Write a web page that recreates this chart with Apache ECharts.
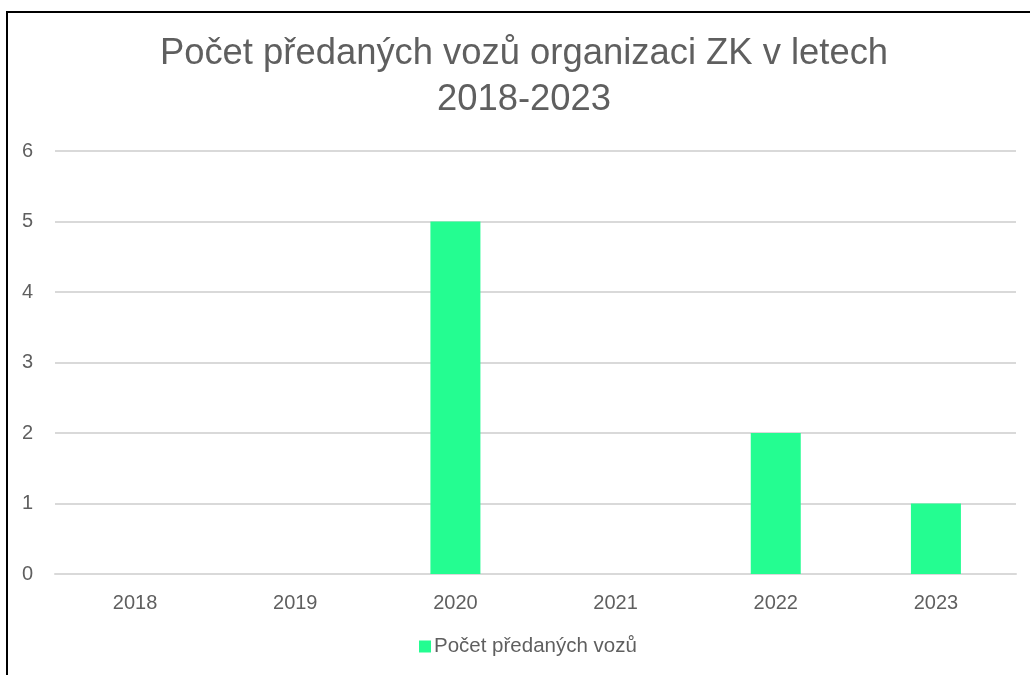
<!DOCTYPE html>
<html lang="cs">
<head>
    <meta charset="UTF-8">
    <title>Počet předaných vozů</title>
    <script src="https://cdn.jsdelivr.net/npm/echarts@6/dist/echarts.min.js"></script>
    <style>
        body { margin: 0; background: #fff; }
        #frame { position: absolute; left: 6px; top: 11px; width: 1100px; height: 700px;
                 border-left: 2px solid #000; border-top: 2px solid #000; }
        #main { position: absolute; left: 0; top: 0; width: 1030px; height: 675px; }
    </style>
</head>
<body>
    <div id="frame"></div>
    <div id="main"></div>
    <script type="text/javascript">
        var roky = ['2018', '2019', '2020', '2021', '2022', '2023'];
        var pocty = [0, 0, 5, 0, 2, 1];
        var nazevRady = 'Počet předaných vozů';

        var font = 'Liberation Sans, Helvetica, Arial, sans-serif';
        var myChart = echarts.init(document.getElementById('main'));

        var option = {
            animation: false,
            title: {
                text: 'Počet předaných vozů organizaci ZK v letech\n2018-2023',
                left: 519,
                textAlign: 'center',
                top: 26,
                textStyle: { fontFamily: font, fontSize: 36.4, fontWeight: 'normal', color: '#5f5f5f', lineHeight: 46 }
            },
            legend: {
                bottom: 13,
                left: 414,
                itemWidth: 12,
                itemHeight: 12,
                itemGap: 4,
                icon: 'rect',
                textStyle: { fontFamily: font, fontSize: 20.5, color: '#5f5f5f', padding: [0, 0, 0, -2] },
                data: [nazevRady]
            },
            grid: { left: 55, right: 14, top: 151, bottom: 101, containLabel: false },
            xAxis: {
                type: 'category',
                data: roky,
                axisLine: { show: true, lineStyle: { color: '#d9d9d9', width: 2 } },
                axisTick: { show: false },
                axisLabel: { fontFamily: font, fontSize: 20, color: '#5f5f5f', margin: 19 }
            },
            yAxis: {
                type: 'value',
                min: 0,
                max: 6,
                interval: 1,
                axisLine: { show: false },
                axisTick: { show: false },
                axisLabel: { fontFamily: font, fontSize: 20, color: '#5f5f5f', margin: 22, align: 'right' },
                splitLine: { lineStyle: { color: '#d9d9d9', width: 2 } }
            },
            series: [{
                name: nazevRady,
                type: 'bar',
                data: pocty,
                barWidth: 50,
                itemStyle: { color: '#24fd91' }
            }]
        };
        myChart.setOption(option);
    </script>
</body>
</html>
